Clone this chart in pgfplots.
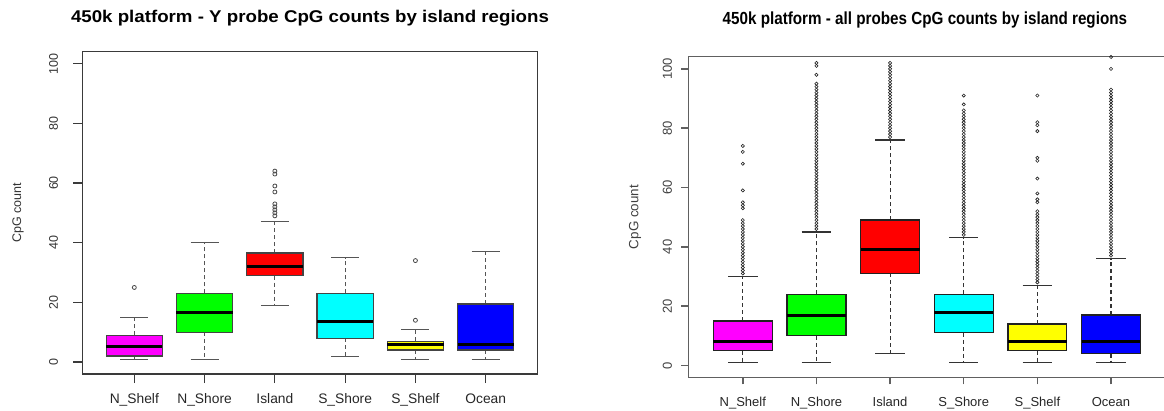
\documentclass[border=0pt]{standalone}
\usepackage{pgfplots}
\pgfplotsset{compat=1.18}
\usepgfplotslibrary{statistics}
\usepackage{fontspec}
\setmainfont{Liberation Sans}
\usepackage{graphicx}
\definecolor{frameL}{HTML}{3A3A3A}
\definecolor{frameR}{HTML}{606060}
\definecolor{boxL}{HTML}{444444}
\definecolor{whiskL}{HTML}{555555}
\definecolor{outL}{HTML}{484848}
\definecolor{boxR}{HTML}{222222}
\definecolor{whiskR}{HTML}{333333}
\definecolor{outR}{HTML}{222222}
\definecolor{cMag}{RGB}{255,0,255}
\definecolor{cGreen}{RGB}{0,255,0}
\definecolor{cRed}{RGB}{255,0,0}
\definecolor{cCyan}{RGB}{0,255,255}
\definecolor{cYellow}{RGB}{255,255,0}
\definecolor{cBlue}{RGB}{0,0,255}

\pgfplotsset{
  Rbox/.style={
    boxplot/draw direction=y,
    boxplot/box extend=0.8,
    boxplot/whisker extend=0.4,
    boxplot/every median/.style={draw=black, line width=3pt},
    boxplot/draw/lower whisker/.code={%
      \draw[/pgfplots/boxplot/every whisker/.try, dash pattern=on 4pt off 3pt]
        (boxplot cs:\pgfkeysvalueof{/pgfplots/boxplot/lower quartile}) --
        (boxplot cs:\pgfkeysvalueof{/pgfplots/boxplot/lower whisker});
      \draw[/pgfplots/boxplot/every whisker/.try]
        (boxplot whisker cs:\pgfkeysvalueof{/pgfplots/boxplot/lower whisker},0) --
        (boxplot whisker cs:\pgfkeysvalueof{/pgfplots/boxplot/lower whisker},1);
    },
    boxplot/draw/upper whisker/.code={%
      \draw[/pgfplots/boxplot/every whisker/.try, dash pattern=on 4pt off 3pt]
        (boxplot cs:\pgfkeysvalueof{/pgfplots/boxplot/upper quartile}) --
        (boxplot cs:\pgfkeysvalueof{/pgfplots/boxplot/upper whisker});
      \draw[/pgfplots/boxplot/every whisker/.try]
        (boxplot whisker cs:\pgfkeysvalueof{/pgfplots/boxplot/upper whisker},0) --
        (boxplot whisker cs:\pgfkeysvalueof{/pgfplots/boxplot/upper whisker},1);
    },
  },
  Lbox/.style={Rbox,
    boxplot/every box/.style={draw=boxL, line width=1.3pt, fill=#1},
    boxplot/every whisker/.style={draw=whiskL, line width=1.1pt},
    mark=o, mark size=2pt,
    mark options={solid, draw=outL, fill=none, line width=0.8pt},
  },
  RRbox/.style={Rbox,
    boxplot/every box/.style={draw=boxR, line width=1.3pt, fill=#1},
    boxplot/every whisker/.style={draw=whiskR, line width=1.1pt},
    mark=o, mark size=1.6pt,
    mark options={solid, draw=outR, fill=none, line width=0.6pt},
  },
}

\begin{document}
\begin{tikzpicture}
\path[use as bounding box] (0,0) rectangle (1164pt,410pt);

% ---------------- left panel ----------------
\begin{axis}[
  at={(82.3pt,36pt)}, anchor=south west,
  scale only axis, width=455.4pt, height=322.3pt,
  xmin=0.26, xmax=6.74, ymin=-4, ymax=104,
  xtick={1,2,3,4,5,6},
  xticklabels={N\_Shelf,N\_Shore,Island,S\_Shore,S\_Shelf,Ocean},
  ytick={0,20,40,60,80,100},
  tick pos=left, tick align=outside, major tick length=9pt,
  axis line style={draw=frameL, line width=1.2pt},
  every tick/.style={draw=frameL, line width=1.2pt},
  /pgf/number format/assume math mode=true,
  yticklabel shift=15pt, xticklabel shift=10.5pt,
  yticklabel style={font=\fontsize{12.5}{12.5}\selectfont, color=black!80, rotate=90, anchor=south, inner sep=0pt},
  xticklabel style={font=\fontsize{13.8}{13.8}\selectfont, color=black!85, anchor=north, inner sep=0pt},
  ylabel={CpG count},
  ylabel style={at={(axis description cs:-0.1412,0.5)}, anchor=center, inner sep=0pt, font=\fontsize{12.5}{12.5}\selectfont, color=black!80},
  title={\scalebox{1.1}[1]{450k platform - Y probe CpG counts by island regions}},
  title style={at={(axis description cs:0.5,1)}, anchor=base, yshift=23.4pt, inner sep=0pt, font=\bfseries\fontsize{17}{17}\selectfont},
]
\addplot[Lbox=cMag, boxplot prepared={draw position=1, lower whisker=1, lower quartile=2, median=5.2, upper quartile=9, upper whisker=15}]
  table[row sep=\\, y index=0] {data\\ 25\\};
\addplot[Lbox=cGreen, boxplot prepared={draw position=2, lower whisker=1, lower quartile=10, median=16.5, upper quartile=23, upper whisker=40}]
  coordinates {};
\addplot[Lbox=cRed, boxplot prepared={draw position=3, lower whisker=19, lower quartile=29, median=32, upper quartile=36.5, upper whisker=47}]
  table[row sep=\\, y index=0] {data\\ 49\\ 50\\ 51\\ 52\\ 53\\ 57\\ 59\\ 63\\ 64\\};
\addplot[Lbox=cCyan, boxplot prepared={draw position=4, lower whisker=2, lower quartile=8, median=13.5, upper quartile=23, upper whisker=35}]
  coordinates {};
\addplot[Lbox=cYellow, boxplot prepared={draw position=5, lower whisker=1, lower quartile=4, median=6, upper quartile=7, upper whisker=11}]
  table[row sep=\\, y index=0] {data\\ 14\\ 34\\};
\addplot[Lbox=cBlue, boxplot prepared={draw position=6, lower whisker=1, lower quartile=4, median=6, upper quartile=19.5, upper whisker=37}]
  coordinates {};
\end{axis}

% ---------------- right panel ----------------
\begin{axis}[
  at={(688.3pt,32.7pt)}, anchor=south west,
  scale only axis, width=477.2pt, height=320.6pt,
  xmin=0.26, xmax=6.74, ymin=-4, ymax=104.1,
  xtick={1,2,3,4,5,6},
  xticklabels={N\_Shelf,N\_Shore,Island,S\_Shore,S\_Shelf,Ocean},
  ytick={0,20,40,60,80,100},
  tick pos=left, tick align=outside, major tick length=7pt,
  axis line style={draw=frameR, line width=1.4pt},
  every tick/.style={draw=frameR, line width=1.4pt},
  /pgf/number format/assume math mode=true,
  yticklabel shift=9pt, xticklabel shift=13pt,
  yticklabel style={font=\fontsize{13}{13}\selectfont, color=black!75, rotate=90, anchor=south, inner sep=0pt},
  xticklabel style={font=\fontsize{13}{13}\selectfont, color=black!85, anchor=north, inner sep=0pt},
  ylabel={CpG count},
  ylabel style={at={(axis description cs:-0.1117,0.5)}, anchor=center, inner sep=0pt, font=\fontsize{13.4}{13.4}\selectfont, color=black!75},
  title={\scalebox{0.87}[1]{450k platform - all probes CpG counts by island regions}},
  title style={at={(axis description cs:0.5,1)}, anchor=base, xshift=-2pt, yshift=25.7pt, inner sep=0pt, font=\bfseries\fontsize{17.5}{17.5}\selectfont},
]
\addplot[RRbox=cMag, boxplot prepared={draw position=1, lower whisker=1, lower quartile=5, median=8, upper quartile=15, upper whisker=30}]
  table[row sep=\\, y index=0] {data\\ 31\\ 32\\ 33\\ 34\\ 35\\ 36\\ 37\\ 38\\ 39\\ 40\\ 41\\ 42\\ 43\\ 44\\ 45\\ 46\\ 47\\ 48\\ 49\\ 53\\ 54\\ 55\\ 59\\ 68\\ 72\\ 74\\};
\addplot[RRbox=cGreen, boxplot prepared={draw position=2, lower whisker=1, lower quartile=10, median=17, upper quartile=24, upper whisker=45}]
  table[row sep=\\, y index=0] {data\\ 46\\ 47\\ 48\\ 49\\ 50\\ 51\\ 52\\ 53\\ 54\\ 55\\ 56\\ 57\\ 58\\ 59\\ 60\\ 61\\ 62\\ 63\\ 64\\ 65\\ 66\\ 67\\ 68\\ 69\\ 70\\ 71\\ 72\\ 73\\ 74\\ 75\\ 76\\ 77\\ 78\\ 79\\ 80\\ 81\\ 82\\ 83\\ 84\\ 85\\ 86\\ 87\\ 88\\ 89\\ 90\\ 91\\ 92\\ 93\\ 94\\ 95\\ 98\\ 101\\ 102\\};
\addplot[RRbox=cRed, boxplot prepared={draw position=3, lower whisker=4, lower quartile=31, median=39, upper quartile=49, upper whisker=76}]
  table[row sep=\\, y index=0] {data\\ 77\\ 78\\ 79\\ 80\\ 81\\ 82\\ 83\\ 84\\ 85\\ 86\\ 87\\ 88\\ 89\\ 90\\ 91\\ 92\\ 93\\ 94\\ 95\\ 96\\ 97\\ 98\\ 99\\ 100\\ 101\\ 102\\};
\addplot[RRbox=cCyan, boxplot prepared={draw position=4, lower whisker=1, lower quartile=11, median=18, upper quartile=24, upper whisker=43}]
  table[row sep=\\, y index=0] {data\\ 44\\ 45\\ 46\\ 47\\ 48\\ 49\\ 50\\ 51\\ 52\\ 53\\ 54\\ 55\\ 56\\ 57\\ 58\\ 59\\ 60\\ 61\\ 62\\ 63\\ 64\\ 65\\ 66\\ 67\\ 68\\ 69\\ 70\\ 71\\ 72\\ 73\\ 74\\ 75\\ 76\\ 77\\ 78\\ 79\\ 80\\ 81\\ 82\\ 83\\ 84\\ 85\\ 86\\ 88\\ 91\\};
\addplot[RRbox=cYellow, boxplot prepared={draw position=5, lower whisker=1, lower quartile=5, median=8, upper quartile=14, upper whisker=27}]
  table[row sep=\\, y index=0] {data\\ 28\\ 29\\ 30\\ 31\\ 32\\ 33\\ 34\\ 35\\ 36\\ 37\\ 38\\ 39\\ 40\\ 41\\ 42\\ 43\\ 44\\ 45\\ 46\\ 47\\ 48\\ 49\\ 50\\ 51\\ 52\\ 55\\ 56\\ 58\\ 63\\ 69\\ 70\\ 79\\ 81\\ 82\\ 91\\};
\addplot[RRbox=cBlue, boxplot prepared={draw position=6, lower whisker=1, lower quartile=4, median=8, upper quartile=17, upper whisker=36}]
  table[row sep=\\, y index=0] {data\\ 37\\ 38\\ 39\\ 40\\ 41\\ 42\\ 43\\ 44\\ 45\\ 46\\ 47\\ 48\\ 49\\ 50\\ 51\\ 52\\ 53\\ 54\\ 55\\ 56\\ 57\\ 58\\ 59\\ 60\\ 61\\ 62\\ 63\\ 64\\ 65\\ 66\\ 67\\ 68\\ 69\\ 70\\ 71\\ 72\\ 73\\ 74\\ 75\\ 76\\ 77\\ 78\\ 79\\ 80\\ 81\\ 82\\ 83\\ 84\\ 85\\ 86\\ 87\\ 88\\ 89\\ 90\\ 91\\ 92\\ 93\\ 100\\ 104\\};
\end{axis}
\end{tikzpicture}
\end{document}
